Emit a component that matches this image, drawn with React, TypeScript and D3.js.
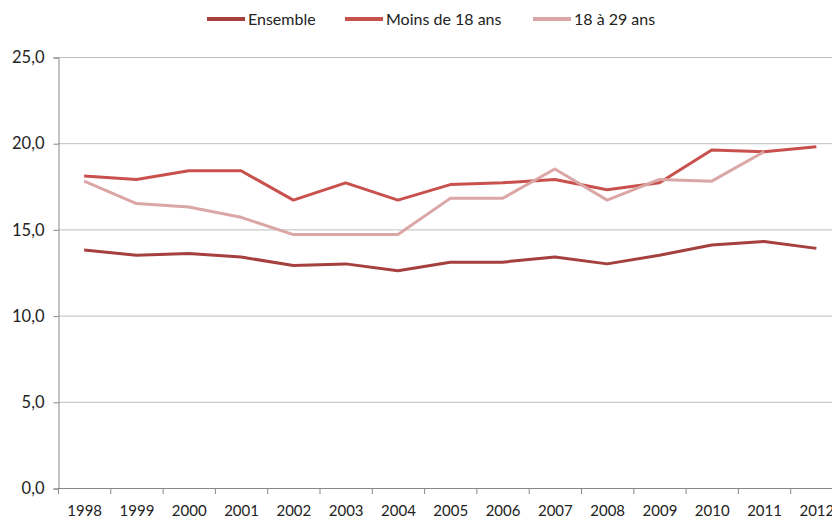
import { useRef, useEffect } from 'react';
import * as d3 from 'd3';

const years = ['1998', '1999', '2000', '2001', '2002', '2003', '2004', '2005', '2006', '2007', '2008', '2009', '2010', '2011', '2012'];
const ensemble = [13.8, 13.5, 13.6, 13.4, 12.9, 13.0, 12.6, 13.1, 13.1, 13.4, 13.0, 13.5, 14.1, 14.3, 13.9];
const moins18 = [18.1, 17.9, 18.4, 18.4, 16.7, 17.7, 16.7, 17.6, 17.7, 17.9, 17.3, 17.7, 19.6, 19.5, 19.8];
const ans18a29: (number | null)[] = [17.8, 16.5, 16.3, 15.7, 14.7, 14.7, 14.7, 16.8, 16.8, 18.5, 16.7, 17.9, 17.8, 19.5, null];
const yTicks = [0, 5, 10, 15, 20, 25];

const series = [
  { name: 'Ensemble', values: ensemble, color: '#A5403E' },
  { name: 'Moins de 18 ans', values: moins18, color: '#C8504D' },
  { name: '18 à 29 ans', values: ans18a29, color: '#DBA7A6' },
];

export default function App() {
  const svgRef = useRef<SVGSVGElement>(null);
  const width = 832;
  const height = 519;
  const font = 'Lato, "Open Sans", sans-serif';

  useEffect(() => {
    if (!svgRef.current) return;
    const svg = d3.select(svgRef.current);
    svg.selectAll('*').remove();

    const left = 58;
    const top = 57;
    const bottom = 488;
    // plot area is wider than the window, right side is cut off
    const x = d3.scaleBand().domain(years).range([left, left + 15 * 52.3]);
    const y = d3.scaleLinear().domain([0, 25]).range([bottom, top]);

    // gridlines
    svg.append('g')
      .selectAll('line')
      .data(yTicks.filter((t) => t > 0))
      .join('line')
      .attr('x1', left)
      .attr('x2', width)
      .attr('y1', (d) => y(d) + 0.5)
      .attr('y2', (d) => y(d) + 0.5)
      .attr('stroke', '#BEBEBE')
      .attr('stroke-width', 1);

    // y axis
    const ya = svg.append('g').attr('transform', `translate(${left + 0.5},0.5)`)
      .call(d3.axisLeft(y).tickValues(yTicks).tickSize(5).tickPadding(9).tickFormat((d) => d3.format('.1f')(d as number).replace('.', ',')));
    ya.selectAll('.domain, line').attr('stroke', '#888888');
    ya.selectAll('text').attr('fill', '#222').attr('font-size', '16.5px').attr('font-family', font);

    // x axis
    const xa = svg.append('g').attr('transform', `translate(0.5,${bottom + 0.5})`)
      .call(d3.axisBottom(x).tickSize(0).tickPadding(17));
    xa.select('.domain').remove();
    xa.selectAll('text').attr('fill', '#222').attr('font-size', '15px').attr('font-family', font);
    svg.append('line')
      .attr('x1', left).attr('x2', width)
      .attr('y1', bottom + 0.5).attr('y2', bottom + 0.5)
      .attr('stroke', '#888888');
    svg.append('g')
      .selectAll('line')
      .data(years)
      .join('line')
      .attr('x1', (d) => (x(d) as number) + 0.5)
      .attr('x2', (d) => (x(d) as number) + 0.5)
      .attr('y1', bottom)
      .attr('y2', bottom + 6)
      .attr('stroke', '#888888');

    const line = d3.line<number | null>()
      .defined((d) => d != null)
      .x((_, i) => (x(years[i]) as number) + x.bandwidth() / 2)
      .y((d) => y(d as number));

    series.forEach((s) => {
      svg.append('path')
        .datum(s.values)
        .attr('fill', 'none')
        .attr('stroke', s.color)
        .attr('stroke-width', 3)
        .attr('stroke-linejoin', 'round')
        .attr('d', line);
    });

    // legend
    const legendX = [207, 345, 533];
    series.forEach((s, i) => {
      const g = svg.append('g').attr('transform', `translate(${legendX[i]},19)`);
      g.append('line').attr('x1', 0).attr('x2', 38).attr('stroke', s.color).attr('stroke-width', 4);
      g.append('text')
        .attr('x', 41)
        .attr('dy', '0.35em')
        .attr('fill', '#222')
        .attr('font-size', '16px')
        .attr('font-family', font)
        .text(s.name);
    });
  }, []);

  return (
    <svg
      ref={svgRef}
      width={width}
      height={height}
      style={{ display: 'block', position: 'absolute', left: 0, top: 0, background: '#fff' }}
    />
  );
}
